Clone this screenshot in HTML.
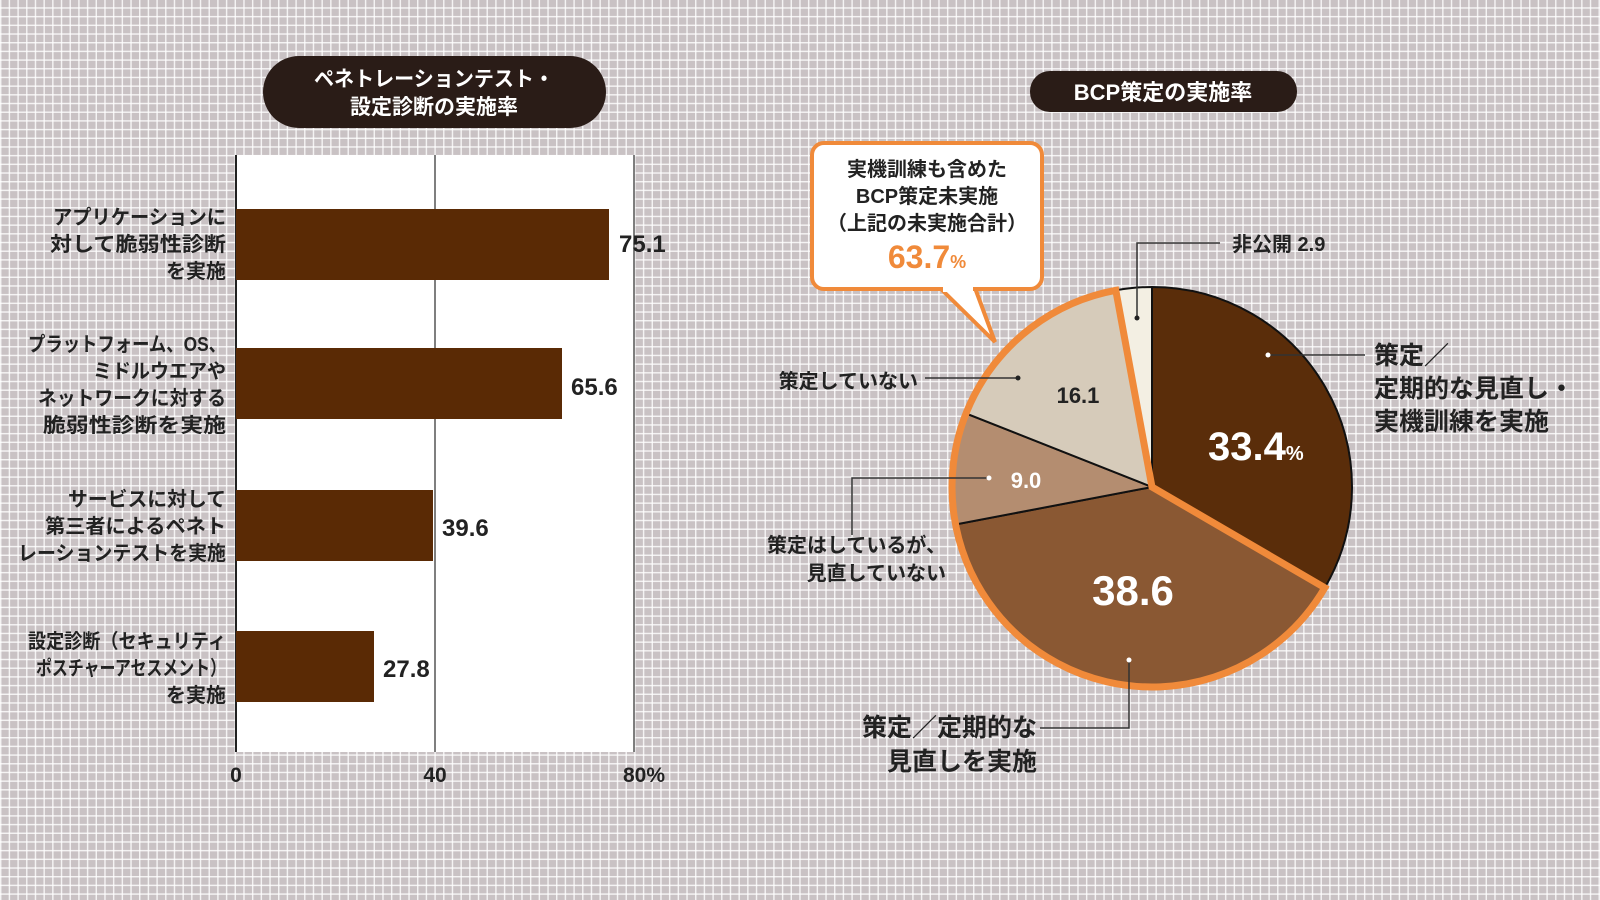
<!DOCTYPE html>
<html><head><meta charset="utf-8"><style>
body{margin:0;width:1600px;height:900px;overflow:hidden;
background-color:#c9c2c4;
background-image:linear-gradient(90deg,rgba(255,255,255,.8) 1.5px,transparent 1.5px),linear-gradient(0deg,rgba(255,255,255,.8) 1.5px,transparent 1.5px);
background-size:8.7px 8.7px;font-family:"Liberation Sans","Noto Sans CJK JP",sans-serif;font-weight:bold;}
</style></head><body>
<svg width="1600" height="900" xmlns="http://www.w3.org/2000/svg" style="position:absolute;left:0;top:0" font-family="Liberation Sans, Noto Sans CJK JP, sans-serif" font-weight="bold">
<rect x="263" y="56" width="343" height="72" rx="36" fill="#2a1c17"/>
<text x="434" y="86" fill="#fff" font-size="21" text-anchor="middle" textLength="240" lengthAdjust="spacingAndGlyphs">ペネトレーションテスト・</text>
<text x="434" y="114" fill="#fff" font-size="21" text-anchor="middle">設定診断の実施率</text>
<rect x="236" y="155" width="398" height="597" fill="#fff"/>
<line x1="435" y1="155" x2="435" y2="752" stroke="#555" stroke-width="1.5"/>
<line x1="634" y1="155" x2="634" y2="752" stroke="#555" stroke-width="1.5"/>
<line x1="236" y1="155" x2="236" y2="752" stroke="#222" stroke-width="2"/>
<g fill="#5a2a05">
<rect x="236" y="209" width="373" height="71"/>
<rect x="236" y="348" width="326" height="71"/>
<rect x="236" y="490" width="197" height="71"/>
<rect x="236" y="631" width="138" height="71"/>
</g>
<g font-size="24" fill="#222">
<text x="619" y="252">75.1</text><text x="571" y="395">65.6</text>
<text x="442" y="536">39.6</text><text x="383" y="677">27.8</text>
</g>
<g font-size="21" fill="#222" text-anchor="middle">
<text x="236" y="782">0</text><text x="435" y="782">40</text><text x="644" y="782">80%</text>
</g>
<g font-size="20" fill="#222" text-anchor="end" lengthAdjust="spacingAndGlyphs">
<text x="226" y="224" textLength="173" lengthAdjust="spacingAndGlyphs">アプリケーションに</text>
<text x="226" y="251" textLength="176" lengthAdjust="spacingAndGlyphs">対して脆弱性診断</text>
<text x="226" y="278">を実施</text>
<text x="226" y="351" textLength="198" lengthAdjust="spacingAndGlyphs">プラットフォーム、OS、</text>
<text x="226" y="378" textLength="133" lengthAdjust="spacingAndGlyphs">ミドルウエアや</text>
<text x="226" y="405" textLength="188" lengthAdjust="spacingAndGlyphs">ネットワークに対する</text>
<text x="226" y="432" textLength="183" lengthAdjust="spacingAndGlyphs">脆弱性診断を実施</text>
<text x="226" y="506" textLength="158" lengthAdjust="spacingAndGlyphs">サービスに対して</text>
<text x="226" y="533" textLength="181" lengthAdjust="spacingAndGlyphs">第三者によるペネト</text>
<text x="226" y="560" textLength="208" lengthAdjust="spacingAndGlyphs">レーションテストを実施</text>
<text x="226" y="648" textLength="198" lengthAdjust="spacingAndGlyphs">設定診断（セキュリティ</text>
<text x="226" y="675" textLength="190" lengthAdjust="spacingAndGlyphs">ポスチャーアセスメント）</text>
<text x="226" y="702">を実施</text>
</g>
<rect x="1030" y="71" width="267" height="41" rx="20" fill="#2a1c17"/>
<text x="1163" y="100" fill="#fff" font-size="22" text-anchor="middle">BCP策定の実施率</text>
<g stroke="#111" stroke-width="2">
<path d="M1152,487 L1152,287 A200,200 0 0 1 1324.8,587.7 Z" fill="#5a2d0a"/>
<path d="M1152,487 L1324.8,587.7 A200,200 0 0 1 955.5,524.5 Z" fill="#8a5833"/>
<path d="M1152,487 L955.5,524.5 A200,200 0 0 1 966,413.4 Z" fill="#b48d70"/>
<path d="M1152,487 L966,413.4 A200,200 0 0 1 1115.8,290.3 Z" fill="#d6cbba"/>
<path d="M1152,487 L1115.8,290.3 A200,200 0 0 1 1152,287 Z" fill="#f3efe3"/>
</g>
<path d="M1152,487 L1324.8,587.7 A200,200 0 1 1 1115.8,290.3 Z" fill="none" stroke="#f08a3a" stroke-width="7"/>
<path d="M940,288 L995,342 L975,288" fill="#fff" stroke="#f08a3a" stroke-width="4"/>
<rect x="812" y="143" width="230" height="146" rx="12" fill="#fff" stroke="#f08a3a" stroke-width="4"/>
<rect x="943" y="284" width="30" height="8" fill="#fff"/>
<g font-size="20" fill="#222" text-anchor="middle">
<text x="927" y="176">実機訓練も含めた</text><text x="927" y="203">BCP策定未実施</text><text x="927" y="230">（上記の未実施合計）</text>
</g>
<text x="927" y="268" font-size="32" fill="#f08a3a" text-anchor="middle">63.7<tspan font-size="18">%</tspan></text>
<text x="1208" y="460" font-size="40" fill="#fff">33.4<tspan font-size="20">%</tspan></text>
<text x="1133" y="605" font-size="42" fill="#fff" text-anchor="middle">38.6</text>
<text x="1026" y="488" font-size="22" fill="#fff" text-anchor="middle">9.0</text>
<text x="1078" y="403" font-size="22" fill="#222" text-anchor="middle">16.1</text>
<g stroke="#333" stroke-width="1.5" fill="none">
<path d="M1268,355 L1365,355"/>
<path d="M1137,318 L1137,243 L1220,243"/>
<path d="M1018,378 L925,378"/>
<path d="M989,478 L852,478 L852,535"/>
<path d="M1129,660 L1129,728 L1040,728"/>
</g>
<g fill="#fff"><circle cx="1268" cy="355" r="2.5"/><circle cx="1129" cy="660" r="2.5"/><circle cx="989" cy="478" r="2.5"/></g>
<g fill="#222"><circle cx="1137" cy="318" r="2.5"/><circle cx="1018" cy="378" r="2.5"/></g>
<text x="1232" y="251" font-size="20" fill="#222">非公開 2.9</text>
<text x="918" y="388" font-size="20" fill="#222" text-anchor="end">策定していない</text>
<text x="946" y="552" font-size="20" fill="#222" text-anchor="end">策定はしているが、</text>
<text x="946" y="580" font-size="20" fill="#222" text-anchor="end">見直していない</text>
<g font-size="25" fill="#222">
<text x="1374" y="364">策定／</text><text x="1374" y="397">定期的な見直し・</text><text x="1374" y="430">実機訓練を実施</text>
</g>
<g font-size="25" fill="#222" text-anchor="end">
<text x="1037" y="736">策定／定期的な</text><text x="1037" y="770">見直しを実施</text>
</g>
</svg>
</body></html>
